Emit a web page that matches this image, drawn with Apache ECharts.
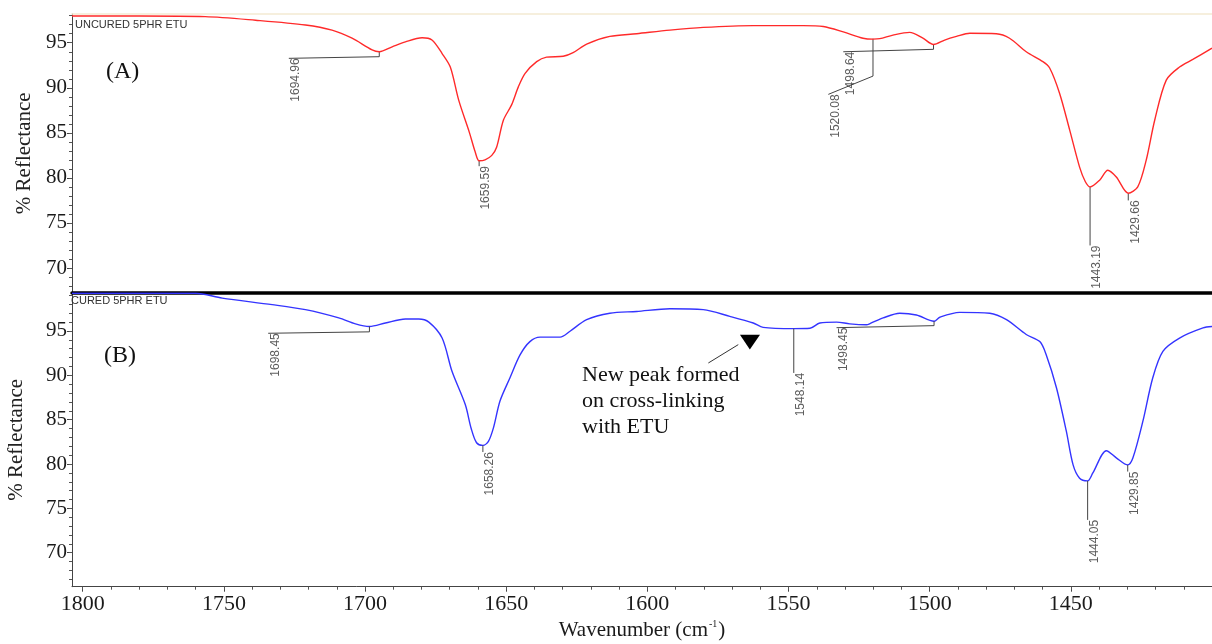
<!DOCTYPE html>
<html>
<head>
<meta charset="utf-8">
<title>FTIR uncured / cured 5PHR ETU</title>
<script src="https://cdn.jsdelivr.net/npm/echarts@6/dist/echarts.min.js"></script>
<style>
html, body { margin: 0; padding: 0; background: #fff; }
#main { width: 1212px; height: 644px; }
</style>
</head>
<body>
<div id="main"></div>
<script>
// wavenumber (cm-1) and % reflectance
var uncuredWn = [1803.8, 1780, 1756.6, 1738.8, 1721.1, 1711.7, 1704.6, 1697.5, 1694.96, 1690.4, 1685.7, 1679.8, 1676.3, 1672.7, 1669.8, 1666.8, 1663, 1661, 1659.59, 1657.5, 1655.1, 1653.4, 1651.0, 1648.1, 1645.7, 1643.3, 1639.2, 1635.7, 1629.8, 1626.3, 1621.5, 1613.3, 1603.8, 1592.0, 1580.2, 1562.5, 1544.8, 1537.7, 1530.6, 1523.6, 1520.08, 1517.7, 1513.0, 1507.1, 1502.4, 1498.64, 1494.7, 1490.5, 1485.8, 1476.4, 1471.7, 1465.8, 1459.9, 1457.5, 1454.0, 1450.4, 1446.9, 1444.9, 1443.19, 1439.8, 1436.9, 1433.9, 1429.66, 1426.3, 1423.3, 1420.3, 1416.2, 1411.5, 1406.8, 1400];
var uncuredR = [97.97, 97.97, 97.9, 97.5, 96.97, 96.4, 95.5, 94.2, 94.0, 94.55, 95.1, 95.55, 95.3, 93.8, 92.3, 88.6, 85.0, 82.9, 81.9, 82.0, 82.5, 83.4, 86.4, 88.1, 90.1, 91.6, 92.9, 93.4, 93.5, 93.9, 94.85, 95.7, 96.0, 96.4, 96.7, 96.9, 96.9, 96.8, 96.2, 95.5, 95.4, 95.45, 95.85, 96.15, 95.5, 94.8, 95.3, 95.7, 96.05, 96.0, 95.5, 94.0, 92.9, 92.2, 89.4, 85.3, 81.2, 79.6, 79.0, 79.75, 80.85, 80.1, 78.3, 79.0, 81.97, 86.4, 90.85, 92.3, 93.15, 94.4];

var curedWn = [1803.8, 1760, 1750.6, 1732.9, 1721.1, 1709.3, 1703.4, 1698.45, 1692.8, 1685.7, 1681.0, 1677.4, 1672.7, 1669.2, 1664.5, 1662.4, 1660.5, 1658.26, 1656.3, 1654.5, 1652.2, 1648.7, 1645.1, 1641.6, 1638.0, 1630.9, 1627.4, 1621.5, 1613.3, 1603.8, 1592.0, 1580.2, 1570.8, 1562.5, 1559.0, 1548.14, 1542.4, 1538.9, 1533.0, 1528.3, 1522.4, 1521, 1516.5, 1510.6, 1504.7, 1498.45, 1496.4, 1489.4, 1478.7, 1472.8, 1465.8, 1461.0, 1458.7, 1455.1, 1451.6, 1449.2, 1446.9, 1444.05, 1442.2, 1437.4, 1433.9, 1429.85, 1428.0, 1424.5, 1421.0, 1417.4, 1411.5, 1403.2, 1400];
var curedR = [99.25, 99.25, 98.7, 97.97, 97.4, 96.47, 95.8, 95.5, 95.9, 96.35, 96.35, 96.0, 94.2, 90.45, 86.7, 84.0, 82.4, 82.1, 82.55, 84.1, 87.1, 89.7, 92.3, 93.8, 94.3, 94.3, 94.97, 96.27, 97.0, 97.2, 97.5, 97.4, 96.65, 95.9, 95.4, 95.26, 95.3, 95.9, 96.0, 95.8, 95.7, 95.85, 96.47, 97.0, 96.8, 96.1, 96.55, 97.1, 97.0, 96.27, 94.6, 93.8, 92.3, 88.6, 83.7, 79.9, 78.4, 78.1, 79.0, 81.5, 80.7, 79.9, 80.7, 84.8, 89.7, 92.7, 94.2, 95.34, 95.5];

// peak marks: [label, wn, curve value, leader knee value, label wn, label value]
var uncuredPeaks = [
    ['1694.96', 1694.96, 94.0, 93.45, 1727.0, 93.27],
    ['1659.59', 1659.59, 81.9, 81.3, 1659.59, 81.3],
    ['1520.08', 1520.08, 95.45, 91.3, 1535.9, 89.27],
    ['1498.64', 1498.64, 94.8, 94.27, 1530.6, 94.0],
    ['1443.19', 1443.19, 79.0, 72.5, 1443.19, 72.5],
    ['1429.66', 1429.66, 78.3, 77.5, 1429.66, 77.5]
];
var curedPeaks = [
    ['1698.45', 1698.45, 95.5, 94.9, 1734.3, 94.74],
    ['1658.26', 1658.26, 82.1, 81.35, 1658.26, 81.35],
    ['1548.14', 1548.14, 95.26, 90.27, 1548.14, 90.27],
    ['1498.45', 1498.45, 96.1, 95.6, 1533.0, 95.37],
    ['1444.05', 1444.05, 78.1, 73.7, 1444.05, 73.7],
    ['1429.85', 1429.85, 79.9, 79.15, 1429.85, 79.15]
];

var xTicks = [1800, 1750, 1700, 1650, 1600, 1550, 1500, 1450];
var yTicks = [70, 75, 80, 85, 90, 95];

// arrow of the "new peak" note (bottom panel, data units)
var arrowTail = [1578.4, 91.39];
var arrowHead = [1567.8, 93.46];
var arrowTri = [[1567.2, 94.58], [1560.1, 94.58], [1563.7, 92.9]];

var X_MIN = 1400, X_MAX = 1803.8;
var serif = 'Liberation Serif, Times New Roman, serif';
var sans = 'Liberation Sans, Arial, sans-serif';

var minorX = [], minorYTop = [], minorYBot = [];
for (var v = 1400; v <= 1800; v += 10) minorX.push(v);
for (var v = 68; v <= 98; v++) minorYTop.push(v);
for (var v = 67; v <= 99; v++) minorYBot.push(v);

function plain(v) {
    return String(v);
}

function pairs(xs, ys) {
    var out = [];
    for (var i = 0; i < xs.length; i++) out.push([xs[i], ys[i]]);
    return out;
}

function leaderSeries(peaks, idx) {
    return {
        type: 'lines',
        coordinateSystem: 'cartesian2d',
        xAxisIndex: idx,
        yAxisIndex: idx,
        polyline: true,
        silent: true,
        z: 3,
        lineStyle: { color: '#444', width: 1, opacity: 1 },
        data: peaks.map(function(p) {
            return { coords: [[p[1], p[2]], [p[1], p[3]], [p[4], p[5]]] };
        })
    };
}

function peakLabels(peaks, idx) {
    return {
        type: 'scatter',
        xAxisIndex: idx,
        yAxisIndex: idx,
        symbolSize: 1,
        silent: true,
        z: 4,
        itemStyle: { color: 'rgba(0,0,0,0)' },
        label: {
            show: true,
            position: 'inside',
            rotate: 90,
            align: 'right',
            verticalAlign: 'top',
            offset: [0, 1],
            fontSize: 12,
            fontFamily: sans,
            color: '#333',
            formatter: '{b}'
        },
        data: peaks.map(function(p) {
            return { name: p[0], value: [p[4], p[5]] };
        })
    };
}

function mainX(grid, withLabels) {
    return {
        type: 'value',
        gridIndex: grid,
        position: 'bottom',
        inverse: true,
        min: X_MIN,
        max: X_MAX,
        splitLine: { show: false },
        axisLine: withLabels ?
            { show: true, onZero: false, lineStyle: { color: '#444', width: 1 } } :
            { show: true, onZero: false, lineStyle: { color: '#000', width: 3.5 } },
        axisTick: { show: withLabels, customValues: xTicks, length: 5, lineStyle: { color: '#444' } },
        axisLabel: {
            show: withLabels,
            customValues: xTicks,
            formatter: plain,
            margin: 7,
            fontFamily: serif,
            fontSize: 22,
            color: '#1a1a1a'
        }
    };
}

function mainY(grid, min, max, gap) {
    return {
        type: 'value',
        gridIndex: grid,
        position: 'left',
        min: min,
        max: max,
        name: '% Reflectance',
        nameLocation: 'middle',
        nameGap: gap,
        nameTextStyle: { fontFamily: serif, fontSize: 21, color: '#222' },
        splitLine: { show: false },
        axisLine: { show: true, onZero: false, lineStyle: { color: '#444', width: 1 } },
        axisTick: { show: true, customValues: yTicks, length: 5, lineStyle: { color: '#444' } },
        axisLabel: {
            customValues: yTicks,
            formatter: plain,
            margin: 5,
            fontFamily: serif,
            fontSize: 21,
            color: '#1a1a1a'
        }
    };
}

// second axis on the same side, only for the small ticks
function minorY(grid, min, max, vals) {
    return {
        type: 'value',
        gridIndex: grid,
        position: 'left',
        min: min,
        max: max,
        splitLine: { show: false },
        axisLine: { show: false, onZero: false },
        axisLabel: { show: false },
        axisTick: { show: true, customValues: vals, length: 3, lineStyle: { color: '#555' } }
    };
}

var chart = echarts.init(document.getElementById('main'));

var option = {
    animation: false,
    backgroundColor: '#fff',
    grid: [
        { left: 72, top: 14, width: 1140, height: 278.5, outerBoundsMode: 'none' },
        { left: 72, top: 293, width: 1140, height: 293.7, outerBoundsMode: 'none' }
    ],
    xAxis: [
        mainX(0, false),
        (function() {
            var a = mainX(1, true);
            a.name = '{t|Wavenumber (cm}{s|-1}{t|)}';
            a.nameLocation = 'middle';
            a.nameGap = 33;
            a.nameTextStyle = {
                rich: {
                    t: { fontFamily: serif, fontSize: 21, color: '#1a1a1a' },
                    s: { fontFamily: serif, fontSize: 10, color: '#1a1a1a', verticalAlign: 'top', padding: [0, 1, 0, 1] }
                }
            };
            return a;
        })(),
        {
            type: 'value', gridIndex: 0, position: 'top', inverse: true, min: X_MIN, max: X_MAX,
            splitLine: { show: false }, axisTick: { show: false }, axisLabel: { show: false },
            axisLine: { show: true, onZero: false, lineStyle: { color: '#f4ead2', width: 1.5 } }
        },
        {
            type: 'value', gridIndex: 1, position: 'bottom', inverse: true, min: X_MIN, max: X_MAX,
            splitLine: { show: false }, axisLine: { show: false, onZero: false }, axisLabel: { show: false },
            axisTick: { show: true, customValues: minorX, length: 3, lineStyle: { color: '#555' } }
        }
    ],
    yAxis: [
        mainY(0, 67.28, 98.19, 37),
        mainY(1, 66.17, 99.28, 45),
        minorY(0, 67.28, 98.19, minorYTop),
        minorY(1, 66.17, 99.28, minorYBot)
    ],
    series: [
        {
            type: 'line',
            name: 'UNCURED 5PHR ETU',
            xAxisIndex: 0,
            yAxisIndex: 0,
            showSymbol: false,
            smooth: 0.3,
            z: 5,
            lineStyle: { color: '#ff2a2a', width: 1.4 },
            data: pairs(uncuredWn, uncuredR)
        },
        {
            type: 'line',
            name: 'CURED 5PHR ETU',
            xAxisIndex: 1,
            yAxisIndex: 1,
            showSymbol: false,
            smooth: 0.3,
            z: 2,
            lineStyle: { color: '#3434ff', width: 1.4 },
            data: pairs(curedWn, curedR)
        },
        leaderSeries(uncuredPeaks, 0),
        leaderSeries(curedPeaks, 1),
        peakLabels(uncuredPeaks, 0),
        peakLabels(curedPeaks, 1)
    ]
};

chart.setOption(option);

// note, arrow and panel tags
var toPx = function(p) {
    return chart.convertToPixel({ xAxisIndex: 1, yAxisIndex: 1 }, p);
};
var t0 = toPx(arrowTail), t1 = toPx(arrowHead);
chart.setOption({
    graphic: [
        { type: 'text', left: 75, top: 19, z: 10, style: { text: 'UNCURED 5PHR ETU', font: '11px ' + sans, fill: '#333' } },
        { type: 'text', left: 71, top: 295, z: 10, style: { text: 'CURED 5PHR ETU', font: '11px ' + sans, fill: '#333' } },
        { type: 'text', left: 106, top: 60, z: 10, style: { text: '(A)', font: '24px ' + serif, fill: '#111' } },
        { type: 'text', left: 104, top: 344, z: 10, style: { text: '(B)', font: '24px ' + serif, fill: '#111' } },
        {
            type: 'text', left: 582, top: 362, z: 10,
            style: { text: 'New peak formed\non cross-linking\nwith ETU', font: '22px ' + serif, lineHeight: 26, fill: '#111' }
        },
        {
            type: 'line', z: 10,
            shape: { x1: t0[0], y1: t0[1], x2: t1[0], y2: t1[1] },
            style: { stroke: '#333', lineWidth: 1 }
        },
        {
            type: 'polygon', z: 10,
            shape: { points: arrowTri.map(toPx) },
            style: { fill: '#000' }
        }
    ]
});
</script>
</body>
</html>
